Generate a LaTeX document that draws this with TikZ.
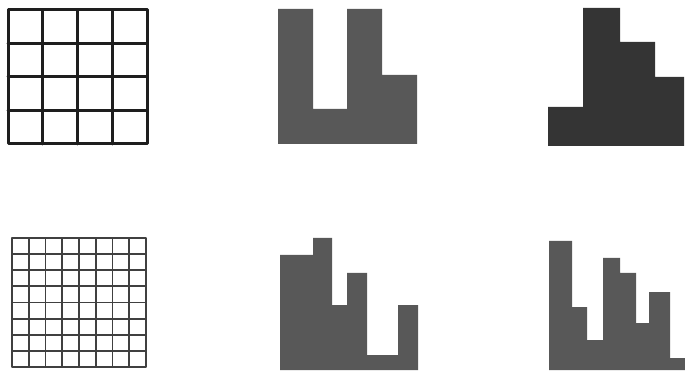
\documentclass[tikz,border=0pt]{standalone}
\usepackage{xcolor}
\usepackage{tikz}
\definecolor{BarGrey}{RGB}{88,88,88}
\definecolor{BarDark}{RGB}{52,52,52}
\definecolor{GridInk}{RGB}{30,30,30}

\begin{document}
\begin{tikzpicture}[
  x=1pt, y=-1pt,
  coarse/.style={draw=GridInk, line width=3pt, line join=round, line cap=round},
  fine/.style={draw=GridInk!85, line width=1.8pt, line join=round},
  histo/.style={fill=BarGrey, draw=none},
  histodark/.style={fill=BarDark, draw=none},
]
\useasboundingbox (0,0) rectangle (685,371);

% 4 x 4 grid
\draw[coarse] (8,10) rectangle (147,144);
\foreach \i in {1,2,3} {
  \draw[coarse] (8+\i*34.75,10) -- (8+\i*34.75,144);
  \draw[coarse] (8,10+\i*33.5) -- (147,10+\i*33.5);
}

% 8 x 8 grid
\draw[fine] (12,238) rectangle (146,367);
\foreach \i in {1,...,7} {
  \draw[fine] (12+\i*16.75,238) -- (12+\i*16.75,367);
  \draw[fine] (12,238+\i*16.125) -- (146,238+\i*16.125);
}

% coarse histograms
\fill[histo] (278,9) -- (313,9) -- (313,109) -- (347,109) -- (347,9)
  -- (382,9) -- (382,75) -- (417,75) -- (417,144) -- (278,144) -- cycle;
\fill[histodark] (548,107) -- (583,107) -- (583,8) -- (620,8) -- (620,42)
  -- (655,42) -- (655,77) -- (684,77) -- (684,146) -- (548,146) -- cycle;

% fine histograms
\fill[histo] (280,255) -- (313,255) -- (313,238) -- (332,238) -- (332,305)
  -- (347,305) -- (347,273) -- (367,273) -- (367,355) -- (398,355)
  -- (398,305) -- (418,305) -- (418,370) -- (280,370) -- cycle;
\fill[histo] (549,241) -- (572,241) -- (572,307) -- (587,307) -- (587,340)
  -- (603,340) -- (603,258) -- (620,258) -- (620,273) -- (636,273)
  -- (636,323) -- (649,323) -- (649,292) -- (670,292) -- (670,358)
  -- (685,358) -- (685,370) -- (549,370) -- cycle;
\end{tikzpicture}
\end{document}
